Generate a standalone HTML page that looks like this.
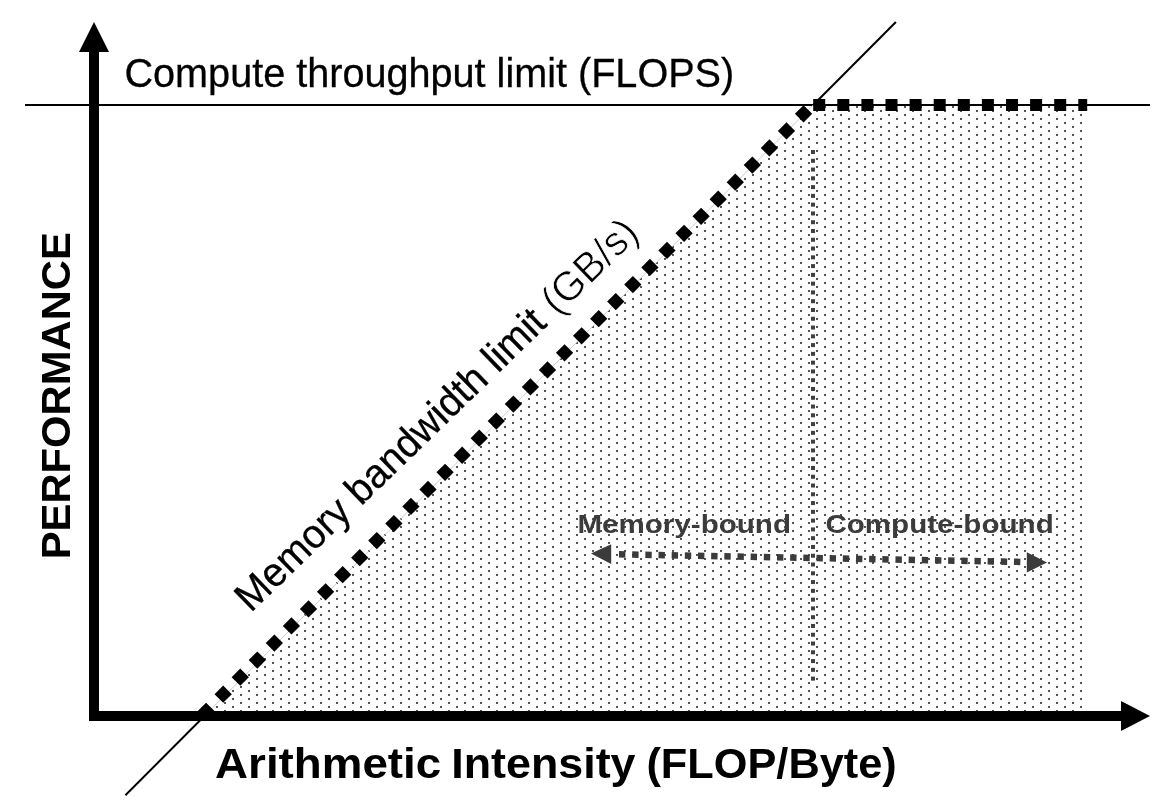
<!DOCTYPE html>
<html><head><meta charset="utf-8">
<style>
html,body{margin:0;padding:0;background:#fff;}
body{width:1168px;height:812px;overflow:hidden;}
svg{display:block;will-change:transform;}
text{font-family:"Liberation Sans",sans-serif;}
</style></head><body>
<svg width="1168" height="812" viewBox="0 0 1168 812">
<defs>
<pattern id="dots" patternUnits="userSpaceOnUse" x="0" y="0" width="16" height="8">
<rect x="8" y="2" width="2" height="2" fill="#555"/>
<rect x="0" y="6" width="2" height="2" fill="#555"/>
</pattern>
</defs>
<rect width="1168" height="812" fill="#fff"/>
<polygon points="201.5,716 812.5,105 1087,105 1087,716" fill="url(#dots)"/>
<rect x="25" y="104" width="1125" height="2" fill="#000"/>
<line x1="125.40" y1="795.30" x2="209.39" y2="711.00" stroke="#000" stroke-width="2"/><line x1="209.39" y1="711.00" x2="813.20" y2="105.00" stroke="#ccc" stroke-width="1"/><line x1="813.20" y1="105.00" x2="895.90" y2="22.00" stroke="#000" stroke-width="2"/>
<g fill="#000">
<path d="M197.47 711.30L206.10 702.67L214.73 711.30L206.10 719.93Z"/>
<path d="M214.54 694.23L223.17 685.60L231.80 694.23L223.17 702.86Z"/>
<path d="M231.61 677.16L240.24 668.53L248.87 677.16L240.24 685.79Z"/>
<path d="M248.68 660.09L257.31 651.46L265.94 660.09L257.31 668.72Z"/>
<path d="M265.75 643.02L274.38 634.39L283.01 643.02L274.38 651.65Z"/>
<path d="M282.82 625.95L291.45 617.32L300.08 625.95L291.45 634.58Z"/>
<path d="M299.89 608.88L308.52 600.25L317.15 608.88L308.52 617.51Z"/>
<path d="M316.96 591.81L325.59 583.18L334.22 591.81L325.59 600.44Z"/>
<path d="M334.03 574.74L342.66 566.11L351.29 574.74L342.66 583.37Z"/>
<path d="M351.10 557.67L359.73 549.04L368.36 557.67L359.73 566.30Z"/>
<path d="M368.17 540.60L376.80 531.97L385.43 540.60L376.80 549.23Z"/>
<path d="M385.24 523.53L393.87 514.90L402.50 523.53L393.87 532.16Z"/>
<path d="M402.31 506.46L410.94 497.83L419.57 506.46L410.94 515.09Z"/>
<path d="M419.38 489.39L428.01 480.76L436.64 489.39L428.01 498.02Z"/>
<path d="M436.45 472.32L445.08 463.69L453.71 472.32L445.08 480.95Z"/>
<path d="M453.52 455.25L462.15 446.62L470.78 455.25L462.15 463.88Z"/>
<path d="M470.59 438.18L479.22 429.55L487.85 438.18L479.22 446.81Z"/>
<path d="M487.66 421.11L496.29 412.48L504.92 421.11L496.29 429.74Z"/>
<path d="M504.73 404.04L513.36 395.41L521.99 404.04L513.36 412.67Z"/>
<path d="M521.80 386.97L530.43 378.34L539.06 386.97L530.43 395.60Z"/>
<path d="M538.87 369.90L547.50 361.27L556.13 369.90L547.50 378.53Z"/>
<path d="M555.94 352.83L564.57 344.20L573.20 352.83L564.57 361.46Z"/>
<path d="M573.01 335.76L581.64 327.13L590.27 335.76L581.64 344.39Z"/>
<path d="M590.08 318.69L598.71 310.06L607.34 318.69L598.71 327.32Z"/>
<path d="M607.15 301.62L615.78 292.99L624.41 301.62L615.78 310.25Z"/>
<path d="M624.22 284.55L632.85 275.92L641.48 284.55L632.85 293.18Z"/>
<path d="M641.29 267.48L649.92 258.85L658.55 267.48L649.92 276.11Z"/>
<path d="M658.36 250.41L666.99 241.78L675.62 250.41L666.99 259.04Z"/>
<path d="M675.43 233.34L684.06 224.71L692.69 233.34L684.06 241.97Z"/>
<path d="M692.50 216.27L701.13 207.64L709.76 216.27L701.13 224.90Z"/>
<path d="M709.57 199.20L718.20 190.57L726.83 199.20L718.20 207.83Z"/>
<path d="M726.64 182.13L735.27 173.50L743.90 182.13L735.27 190.76Z"/>
<path d="M743.71 165.06L752.34 156.43L760.97 165.06L752.34 173.69Z"/>
<path d="M760.78 147.99L769.41 139.36L778.04 147.99L769.41 156.62Z"/>
<path d="M777.85 130.92L786.48 122.29L795.11 130.92L786.48 139.55Z"/>
<path d="M794.92 113.85L803.55 105.22L812.18 113.85L803.55 122.48Z"/>
<rect x="813.20" y="99" width="12.00" height="12"/>
<rect x="837.30" y="99" width="12.00" height="12"/>
<rect x="861.40" y="99" width="12.00" height="12"/>
<rect x="885.50" y="99" width="12.00" height="12"/>
<rect x="909.60" y="99" width="12.00" height="12"/>
<rect x="933.70" y="99" width="12.00" height="12"/>
<rect x="957.80" y="99" width="12.00" height="12"/>
<rect x="981.90" y="99" width="12.00" height="12"/>
<rect x="1006.00" y="99" width="12.00" height="12"/>
<rect x="1030.10" y="99" width="12.00" height="12"/>
<rect x="1054.20" y="99" width="12.00" height="12"/>
<rect x="1078.30" y="99" width="8.90" height="12"/>
</g>
<g fill="#404040">
<rect x="811" y="150.00" width="4" height="4"/>
<rect x="811" y="158.78" width="4" height="4"/>
<rect x="811" y="167.55" width="4" height="4"/>
<rect x="811" y="176.33" width="4" height="4"/>
<rect x="811" y="185.11" width="4" height="4"/>
<rect x="811" y="193.88" width="4" height="4"/>
<rect x="811" y="202.66" width="4" height="4"/>
<rect x="811" y="211.44" width="4" height="4"/>
<rect x="811" y="220.22" width="4" height="4"/>
<rect x="811" y="228.99" width="4" height="4"/>
<rect x="811" y="237.77" width="4" height="4"/>
<rect x="811" y="246.55" width="4" height="4"/>
<rect x="811" y="255.32" width="4" height="4"/>
<rect x="811" y="264.10" width="4" height="4"/>
<rect x="811" y="272.88" width="4" height="4"/>
<rect x="811" y="281.65" width="4" height="4"/>
<rect x="811" y="290.43" width="4" height="4"/>
<rect x="811" y="299.21" width="4" height="4"/>
<rect x="811" y="307.99" width="4" height="4"/>
<rect x="811" y="316.76" width="4" height="4"/>
<rect x="811" y="325.54" width="4" height="4"/>
<rect x="811" y="334.32" width="4" height="4"/>
<rect x="811" y="343.09" width="4" height="4"/>
<rect x="811" y="351.87" width="4" height="4"/>
<rect x="811" y="360.65" width="4" height="4"/>
<rect x="811" y="369.42" width="4" height="4"/>
<rect x="811" y="378.20" width="4" height="4"/>
<rect x="811" y="386.98" width="4" height="4"/>
<rect x="811" y="395.76" width="4" height="4"/>
<rect x="811" y="404.53" width="4" height="4"/>
<rect x="811" y="413.31" width="4" height="4"/>
<rect x="811" y="422.09" width="4" height="4"/>
<rect x="811" y="430.86" width="4" height="4"/>
<rect x="811" y="439.64" width="4" height="4"/>
<rect x="811" y="448.42" width="4" height="4"/>
<rect x="811" y="457.19" width="4" height="4"/>
<rect x="811" y="465.97" width="4" height="4"/>
<rect x="811" y="474.75" width="4" height="4"/>
<rect x="811" y="483.53" width="4" height="4"/>
<rect x="811" y="492.30" width="4" height="4"/>
<rect x="811" y="501.08" width="4" height="4"/>
<rect x="811" y="509.86" width="4" height="4"/>
<rect x="811" y="518.63" width="4" height="4"/>
<rect x="811" y="527.41" width="4" height="4"/>
<rect x="811" y="536.19" width="4" height="4"/>
<rect x="811" y="544.96" width="4" height="4"/>
<rect x="811" y="553.74" width="4" height="4"/>
<rect x="811" y="562.52" width="4" height="4"/>
<rect x="811" y="571.30" width="4" height="4"/>
<rect x="811" y="580.07" width="4" height="4"/>
<rect x="811" y="588.85" width="4" height="4"/>
<rect x="811" y="597.63" width="4" height="4"/>
<rect x="811" y="606.40" width="4" height="4"/>
<rect x="811" y="615.18" width="4" height="4"/>
<rect x="811" y="623.96" width="4" height="4"/>
<rect x="811" y="632.74" width="4" height="4"/>
<rect x="811" y="641.51" width="4" height="4"/>
<rect x="811" y="650.29" width="4" height="4"/>
<rect x="811" y="659.07" width="4" height="4"/>
<rect x="811" y="667.84" width="4" height="4"/>
<rect x="811" y="676.62" width="4" height="4"/>
</g>
<g fill="#000">
<rect x="89" y="51" width="10" height="670"/>
<polygon points="79,52 109,52 94,22"/>
<rect x="89" y="711" width="1032" height="10"/>
<polygon points="1121,701 1121,731 1150,716"/>
</g>
<text transform="translate(124.49,86.95) scale(0.9905,1.0363)" font-size="40" fill="#000" stroke="#000" stroke-width="0.3">Compute throughput limit (FLOPS)</text>
<text transform="translate(215.06,777.90) scale(1.1439,1.0429)" font-size="40" font-weight="bold" fill="#000">Arithmetic</text>
<text transform="translate(451.20,777.90) scale(1.1208,1.0429)" font-size="40" font-weight="bold" fill="#000">Intensity</text>
<text transform="translate(646.44,777.90) scale(1.0831,1.0429)" font-size="40" font-weight="bold" fill="#000">(FLOP/Byte)</text>
<text transform="translate(577.42,532.60) scale(0.7399,0.6613)" font-size="40" font-weight="bold" fill="#3b3b3b">Memory-bound</text>
<text transform="translate(825.39,532.60) scale(0.7398,0.6613)" font-size="40" font-weight="bold" fill="#3b3b3b">Compute-bound</text>
<text transform="translate(69.85,556.50) rotate(-90.000) translate(-2.79,0) scale(1.0443,1.0156)" font-size="40" font-weight="bold" fill="#000">PERFORMANCE</text>
<text transform="translate(253.10,611.10) rotate(-44.100) translate(-3.24,0) scale(0.9866,1.0175)" font-size="40" fill="#000" stroke="#000" stroke-width="0.3">Memory bandwidth limit</text>
<text transform="translate(253.10,611.10) rotate(-44.100) translate(423.50,0) scale(1.0083,1.0356)" font-size="40" fill="#000" stroke="#fff" stroke-width="0.7">(GB/s)</text>
<g fill="#3b3b3b">
<polygon points="591,553.4 611.2,544.2 611.2,564"/>
<polygon points="1047,562.6 1026.8,552.2 1026.8,572.4"/>
<line x1="619" y1="554.3" x2="1020.6" y2="561.9" stroke="#3b3b3b" stroke-width="6.5" stroke-dasharray="6.4 6.767"/>
</g>
</svg>
</body></html>
